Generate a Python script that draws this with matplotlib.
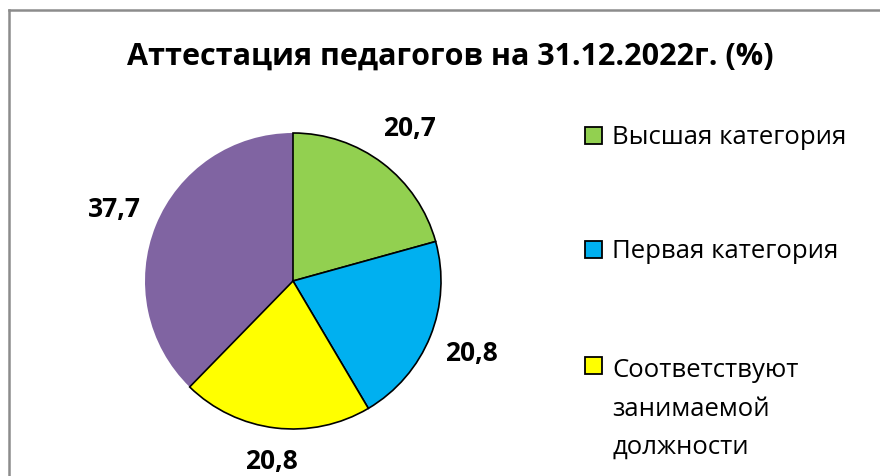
import matplotlib.pyplot as plt
from matplotlib.patches import Rectangle
from matplotlib.lines import Line2D

title = 'Аттестация педагогов на 31.12.2022г. (%)'
categories = ['Высшая категория', 'Первая категория', 'Соответствуют\nзанимаемой\nдолжности', 'Без категории']
values = [20.7, 20.8, 20.8, 37.7]
value_labels = ['20,7', '20,8', '20,8', '37,7']
colors = ['#92D050', '#00B0F0', '#FFFF00', '#8064A2']

plt.rcParams['font.family'] = ['Open Sans', 'DejaVu Sans']

W, H = 880, 477
fig = plt.figure(figsize=(W / 100, H / 100), dpi=100)

# pie axes: centre ~ (293, 282), radius ~148 px
cx, cy, r = 293, 282, 148
ax = fig.add_axes([(cx - r) / W, (H - cy - r) / H, 2 * r / W, 2 * r / H])
wedges, texts = ax.pie(values, labels=value_labels, colors=colors, startangle=90,
                       counterclock=False, labeldistance=1.3, radius=1,
                       wedgeprops=dict(edgecolor='black', linewidth=1.2),
                       textprops=dict(fontsize=19, fontweight='bold'))
# purple slice has no outline, sits below the others
wedges[3].set_edgecolor('none')
wedges[3].set_zorder(0)
for t in texts:
    t.set_ha('center')
    t.set_va('center')
# bottom label sits a little closer to the pie
x, y = texts[2].get_position()
texts[2].set_position((x * 1.22 / 1.3, y * 1.22 / 1.3))
ax.set_xlim(-1, 1)
ax.set_ylim(-1, 1)
ax.set_aspect('equal')

fig.text(450 / W, 1 - 57 / H, title, ha='center', va='center',
         fontsize=22, fontweight='bold')

# legend (only first three entries visible)
leg_base = [144, 258, 374]
line_px = 40
for i in range(3):
    yb = leg_base[i]
    nlines = categories[i].count('\n') + 1
    fig.patches.append(Rectangle((585 / W, 1 - (yb + 1) / H), 17 / W, 17 / H,
                                 transform=fig.transFigure, facecolor=colors[i],
                                 edgecolor='black', linewidth=1.3))
    # mpl's 'baseline' for multi-line text uses the last line
    fig.text(612 / W, 1 - (yb + (nlines - 1) * line_px) / H, categories[i],
             ha='left', va='baseline', fontsize=18.5, linespacing=1.7)

# outer frame
fig.add_artist(Line2D([8.5 / W, 8.5 / W], [0, 1 - 10.5 / H], transform=fig.transFigure,
                      color='#8C8C8C', linewidth=1.8))
fig.add_artist(Line2D([8.5 / W, 1], [1 - 10.5 / H, 1 - 10.5 / H], transform=fig.transFigure,
                      color='#8C8C8C', linewidth=1.8))

fig.savefig('out.png', dpi=100)
